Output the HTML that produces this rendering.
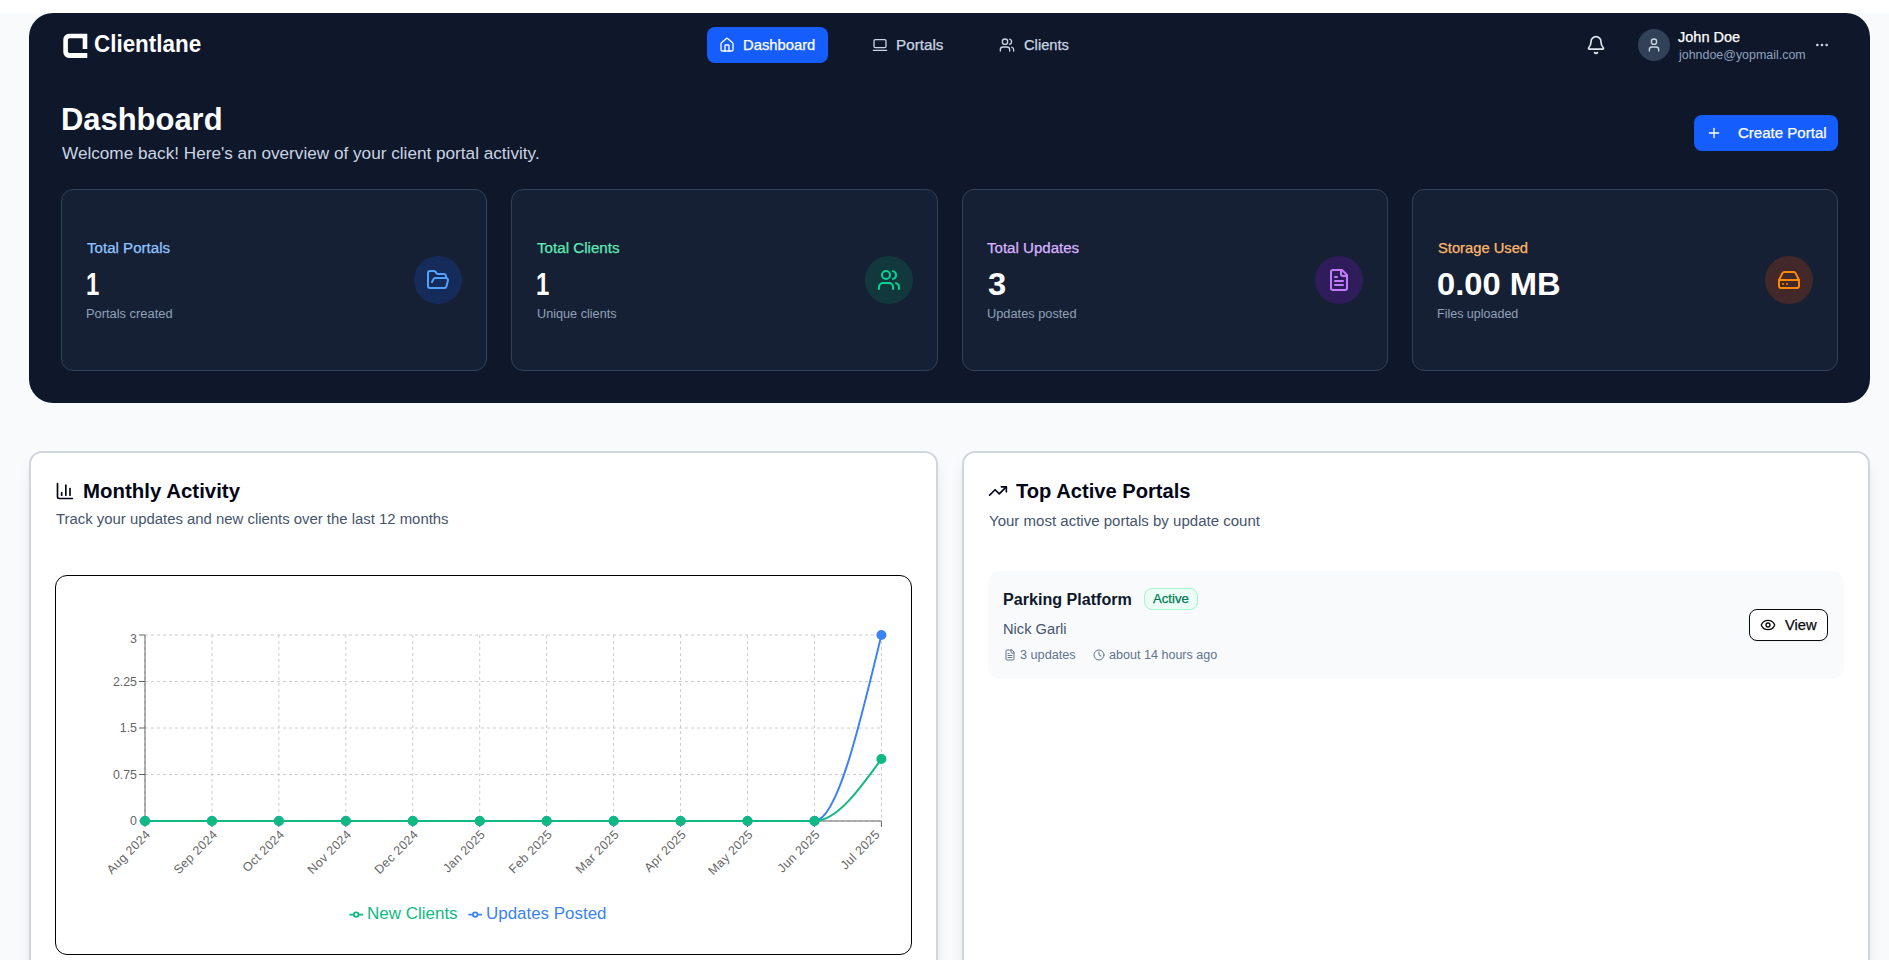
<!DOCTYPE html>
<html lang="en">
<head>
<meta charset="utf-8">
<title>Clientlane Dashboard</title>
<style>
*{box-sizing:border-box;margin:0;padding:0}
html,body{width:1889px;height:960px;overflow:hidden}
body{position:relative;background:#f8fafc;font-family:"Liberation Sans",sans-serif;-webkit-font-smoothing:antialiased}
.abs{position:absolute}
.t{position:absolute;transform-origin:0 0;white-space:nowrap;line-height:1;font-family:"Liberation Sans",sans-serif}
.topstrip{left:0;top:0;width:1889px;height:13px;background:#fff}
.hero{left:29px;top:13px;width:1841px;height:390px;background:#0f172b;border-radius:24px}
.navactive{left:707px;top:27px;width:121px;height:36px;background:#155dfc;border-radius:8px}
.avatar{left:1638px;top:29px;width:32px;height:32px;border-radius:50%;background:#314158}
.createbtn{left:1694px;top:115px;width:144px;height:36px;background:#155dfc;border-radius:8px}
.stat{top:189px;width:426.25px;height:182px;border:1px solid #314158;border-radius:12px;background:rgba(29,41,61,.5)}
.circ{top:256px;width:48px;height:48px;border-radius:50%}
.card{top:451px;height:560px;background:#fff;border:2px solid #d1d5dc;border-radius:13px;box-shadow:0 10px 15px -3px rgba(0,0,0,.1),0 4px 6px -4px rgba(0,0,0,.1)}
.chartbox{left:55px;top:575px;width:857px;height:380px;border:1px solid #000;border-radius:12px;background:#fff}
.item{left:987.5px;top:570.5px;width:856.5px;height:108.5px;background:#f8fafc;border-radius:12px}
.badge{left:1144px;top:588px;width:54px;height:22px;border:1px solid #a4f4cf;background:#ecfdf5;border-radius:8px}
.viewbtn{left:1749px;top:609px;width:79px;height:32px;border:1px solid #0a0a0a;border-radius:8px;background:#fff;box-shadow:0 1px 2px rgba(0,0,0,.05)}
svg.ic{position:absolute;fill:none;stroke-width:2;stroke-linecap:round;stroke-linejoin:round;overflow:visible}
</style>
</head>
<body>
<div class="abs topstrip"></div>
<div class="abs hero"></div>

<!-- logo -->
<svg class="abs" style="left:60px;top:30px" width="32" height="32" viewBox="60 30 32 32"><path d="M87.3 49 V33.75 H69 A5.7 5.7 0 0 0 63.3 39.45 V52.2 A5.7 5.7 0 0 0 69 57.9 H87.3 V52.9 H69.6 A1.7 1.7 0 0 1 67.9 51.2 V40.05 A1.7 1.7 0 0 1 69.6 38.35 H82.7 V49 Z" fill="#fff"/></svg>

<!-- nav -->
<div class="abs navactive"></div>
<svg class="ic" style="left:719px;top:37px;stroke:#fff" width="16" height="16" viewBox="0 0 24 24"><path d="M15 21v-8a1 1 0 0 0-1-1h-4a1 1 0 0 0-1 1v8"/><path d="M3 10a2 2 0 0 1 .709-1.528l7-5.999a2 2 0 0 1 2.582 0l7 5.999A2 2 0 0 1 21 10v9a2 2 0 0 1-2 2H5a2 2 0 0 1-2-2z"/></svg>
<svg class="ic" style="left:872px;top:37px;stroke:#cad5e2" width="16" height="16" viewBox="0 0 24 24"><rect width="18" height="12" x="3" y="4" rx="2" ry="2"/><line x1="2" x2="22" y1="20" y2="20"/></svg>
<svg class="ic" style="left:999px;top:37px;stroke:#cad5e2" width="16" height="16" viewBox="0 0 24 24"><path d="M16 21v-2a4 4 0 0 0-4-4H6a4 4 0 0 0-4 4v2"/><circle cx="9" cy="7" r="4"/><path d="M22 21v-2a4 4 0 0 0-3-3.87"/><path d="M16 3.13a4 4 0 0 1 0 7.75"/></svg>

<!-- right header -->
<svg class="ic" style="left:1586px;top:35px;stroke:#e2e8f0" width="20" height="20" viewBox="0 0 24 24"><path d="M10.268 21a2 2 0 0 0 3.464 0"/><path d="M3.262 15.326A1 1 0 0 0 4 17h16a1 1 0 0 0 .74-1.673C19.41 13.956 18 12.499 18 8A6 6 0 0 0 6 8c0 4.499-1.411 5.956-2.738 7.326"/></svg>
<div class="abs avatar"></div>
<svg class="ic" style="left:1646px;top:37px;stroke:#cad5e2" width="16" height="16" viewBox="0 0 24 24"><path d="M19 21v-2a4 4 0 0 0-4-4H9a4 4 0 0 0-4 4v2"/><circle cx="12" cy="7" r="4"/></svg>
<svg class="ic" style="left:1814px;top:37px;stroke:#cad5e2" width="16" height="16" viewBox="0 0 24 24"><circle cx="12" cy="12" r="1"/><circle cx="19" cy="12" r="1"/><circle cx="5" cy="12" r="1"/></svg>

<!-- create button -->
<div class="abs createbtn"></div>
<svg class="ic" style="left:1706px;top:125px;stroke:#fff" width="16" height="16" viewBox="0 0 24 24"><path d="M5 12h14"/><path d="M12 5v14"/></svg>

<!-- stat cards -->
<div class="abs stat" style="left:61px"></div>
<div class="abs stat" style="left:511.25px"></div>
<div class="abs stat" style="left:961.5px"></div>
<div class="abs stat" style="left:1411.75px"></div>
<div class="abs circ" style="left:414px;background:rgba(21,93,252,.2)"></div>
<div class="abs circ" style="left:865px;background:rgba(0,153,102,.2)"></div>
<div class="abs circ" style="left:1315px;background:rgba(152,16,250,.2)"></div>
<div class="abs circ" style="left:1765px;background:rgba(245,73,0,.2)"></div>
<svg class="ic" style="left:426px;top:268px;stroke:#51a2ff" width="24" height="24" viewBox="0 0 24 24"><path d="m6 14 1.5-2.9A2 2 0 0 1 9.24 10H20a2 2 0 0 1 1.94 2.5l-1.54 6a2 2 0 0 1-1.95 1.5H4a2 2 0 0 1-2-2V5a2 2 0 0 1 2-2h3.9a2 2 0 0 1 1.69.9l.81 1.2a2 2 0 0 0 1.67.9H18a2 2 0 0 1 2 2v2"/></svg>
<svg class="ic" style="left:877px;top:268px;stroke:#00d492" width="24" height="24" viewBox="0 0 24 24"><path d="M16 21v-2a4 4 0 0 0-4-4H6a4 4 0 0 0-4 4v2"/><circle cx="9" cy="7" r="4"/><path d="M22 21v-2a4 4 0 0 0-3-3.87"/><path d="M16 3.13a4 4 0 0 1 0 7.75"/></svg>
<svg class="ic" style="left:1327px;top:268px;stroke:#c27aff" width="24" height="24" viewBox="0 0 24 24"><path d="M15 2H6a2 2 0 0 0-2 2v16a2 2 0 0 0 2 2h12a2 2 0 0 0 2-2V7Z"/><path d="M14 2v4a2 2 0 0 0 2 2h4"/><path d="M10 9H8"/><path d="M16 13H8"/><path d="M16 17H8"/></svg>
<svg class="ic" style="left:1777px;top:268px;stroke:#ff8904" width="24" height="24" viewBox="0 0 24 24"><line x1="22" x2="2" y1="12" y2="12"/><path d="M5.45 5.11 2 12v6a2 2 0 0 0 2 2h16a2 2 0 0 0 2-2v-6l-3.45-6.89A2 2 0 0 0 16.76 4H7.24a2 2 0 0 0-1.79 1.11z"/><line x1="6" x2="6.01" y1="16" y2="16"/><line x1="10" x2="10.01" y1="16" y2="16"/></svg>

<!-- lower cards -->
<div class="abs card" style="left:29px;width:908.5px"></div>
<div class="abs card" style="left:961.5px;width:908.5px"></div>
<svg class="ic" style="left:55px;top:481px;stroke:#020618" width="20" height="20" viewBox="0 0 24 24"><path d="M3 3v16a2 2 0 0 0 2 2h16"/><path d="M18 17V9"/><path d="M13 17V5"/><path d="M8 17v-3"/></svg>
<svg class="ic" style="left:988px;top:481px;stroke:#020618" width="20" height="20" viewBox="0 0 24 24"><path d="M16 7h6v6"/><path d="m22 7-8.5 8.5-5-5L2 17"/></svg>
<div class="abs chartbox"></div>
<svg class="abs" style="left:0;top:0;pointer-events:none" width="1889" height="960" viewBox="0 0 1889 960" font-family="'Liberation Sans', sans-serif">
<g stroke="#ccc" stroke-dasharray="3 3" fill="none" stroke-width="1">
<line x1="145.0" y1="821.00" x2="881.4" y2="821.00"/>
<line x1="145.0" y1="774.50" x2="881.4" y2="774.50"/>
<line x1="145.0" y1="728.00" x2="881.4" y2="728.00"/>
<line x1="145.0" y1="681.50" x2="881.4" y2="681.50"/>
<line x1="145.0" y1="635.00" x2="881.4" y2="635.00"/>
<line x1="145.00" y1="635.0" x2="145.00" y2="821.0"/>
<line x1="211.95" y1="635.0" x2="211.95" y2="821.0"/>
<line x1="278.89" y1="635.0" x2="278.89" y2="821.0"/>
<line x1="345.84" y1="635.0" x2="345.84" y2="821.0"/>
<line x1="412.78" y1="635.0" x2="412.78" y2="821.0"/>
<line x1="479.73" y1="635.0" x2="479.73" y2="821.0"/>
<line x1="546.67" y1="635.0" x2="546.67" y2="821.0"/>
<line x1="613.62" y1="635.0" x2="613.62" y2="821.0"/>
<line x1="680.56" y1="635.0" x2="680.56" y2="821.0"/>
<line x1="747.51" y1="635.0" x2="747.51" y2="821.0"/>
<line x1="814.45" y1="635.0" x2="814.45" y2="821.0"/>
<line x1="881.40" y1="635.0" x2="881.40" y2="821.0"/>
</g>
<g stroke="#666" fill="none" stroke-width="1">
<line x1="145.0" y1="821.0" x2="881.4" y2="821.0"/>
<line x1="145.00" y1="821.0" x2="145.00" y2="827.0"/>
<line x1="211.95" y1="821.0" x2="211.95" y2="827.0"/>
<line x1="278.89" y1="821.0" x2="278.89" y2="827.0"/>
<line x1="345.84" y1="821.0" x2="345.84" y2="827.0"/>
<line x1="412.78" y1="821.0" x2="412.78" y2="827.0"/>
<line x1="479.73" y1="821.0" x2="479.73" y2="827.0"/>
<line x1="546.67" y1="821.0" x2="546.67" y2="827.0"/>
<line x1="613.62" y1="821.0" x2="613.62" y2="827.0"/>
<line x1="680.56" y1="821.0" x2="680.56" y2="827.0"/>
<line x1="747.51" y1="821.0" x2="747.51" y2="827.0"/>
<line x1="814.45" y1="821.0" x2="814.45" y2="827.0"/>
<line x1="881.40" y1="821.0" x2="881.40" y2="827.0"/>
<line x1="145.0" y1="635.0" x2="145.0" y2="821.0"/>
<line x1="139.0" y1="821.00" x2="145.0" y2="821.00"/>
<line x1="139.0" y1="774.50" x2="145.0" y2="774.50"/>
<line x1="139.0" y1="728.00" x2="145.0" y2="728.00"/>
<line x1="139.0" y1="681.50" x2="145.0" y2="681.50"/>
<line x1="139.0" y1="635.00" x2="145.0" y2="635.00"/>
</g>
<g fill="#666" font-size="12.4" stroke="none">
<text x="137.0" y="821.00" text-anchor="end"><tspan dy="0.355em">0</tspan></text>
<text x="137.0" y="774.50" text-anchor="end"><tspan dy="0.355em">0.75</tspan></text>
<text x="137.0" y="728.00" text-anchor="end"><tspan dy="0.355em">1.5</tspan></text>
<text x="137.0" y="681.50" text-anchor="end"><tspan dy="0.355em">2.25</tspan></text>
<text x="137.0" y="638.50" text-anchor="end"><tspan dy="0.355em">3</tspan></text>
<text x="145.00" y="829.00" text-anchor="end" letter-spacing="0.35" transform="rotate(-45, 145.00, 829.00)"><tspan dy="0.71em">Aug 2024</tspan></text>
<text x="211.95" y="829.00" text-anchor="end" letter-spacing="0.35" transform="rotate(-45, 211.95, 829.00)"><tspan dy="0.71em">Sep 2024</tspan></text>
<text x="278.89" y="829.00" text-anchor="end" letter-spacing="0.35" transform="rotate(-45, 278.89, 829.00)"><tspan dy="0.71em">Oct 2024</tspan></text>
<text x="345.84" y="829.00" text-anchor="end" letter-spacing="0.35" transform="rotate(-45, 345.84, 829.00)"><tspan dy="0.71em">Nov 2024</tspan></text>
<text x="412.78" y="829.00" text-anchor="end" letter-spacing="0.35" transform="rotate(-45, 412.78, 829.00)"><tspan dy="0.71em">Dec 2024</tspan></text>
<text x="479.73" y="829.00" text-anchor="end" letter-spacing="0.35" transform="rotate(-45, 479.73, 829.00)"><tspan dy="0.71em">Jan 2025</tspan></text>
<text x="546.67" y="829.00" text-anchor="end" letter-spacing="0.35" transform="rotate(-45, 546.67, 829.00)"><tspan dy="0.71em">Feb 2025</tspan></text>
<text x="613.62" y="829.00" text-anchor="end" letter-spacing="0.35" transform="rotate(-45, 613.62, 829.00)"><tspan dy="0.71em">Mar 2025</tspan></text>
<text x="680.56" y="829.00" text-anchor="end" letter-spacing="0.35" transform="rotate(-45, 680.56, 829.00)"><tspan dy="0.71em">Apr 2025</tspan></text>
<text x="747.51" y="829.00" text-anchor="end" letter-spacing="0.35" transform="rotate(-45, 747.51, 829.00)"><tspan dy="0.71em">May 2025</tspan></text>
<text x="814.45" y="829.00" text-anchor="end" letter-spacing="0.35" transform="rotate(-45, 814.45, 829.00)"><tspan dy="0.71em">Jun 2025</tspan></text>
<text x="874.40" y="829.00" text-anchor="end" letter-spacing="0.35" transform="rotate(-45, 874.40, 829.00)"><tspan dy="0.71em">Jul 2025</tspan></text>
</g>
<path d="M145.00,821.00L211.95,821.00L278.89,821.00L345.84,821.00L412.78,821.00L479.73,821.00L546.67,821.00L613.62,821.00L680.56,821.00L747.51,821.00L814.45,821.00C836.77,821.00,859.08,728.00,881.40,635.00" fill="none" stroke="#3b82f6" stroke-width="2"/>
<circle cx="145.00" cy="821.00" r="4" fill="#3b82f6" stroke="#3b82f6" stroke-width="2"/>
<circle cx="211.95" cy="821.00" r="4" fill="#3b82f6" stroke="#3b82f6" stroke-width="2"/>
<circle cx="278.89" cy="821.00" r="4" fill="#3b82f6" stroke="#3b82f6" stroke-width="2"/>
<circle cx="345.84" cy="821.00" r="4" fill="#3b82f6" stroke="#3b82f6" stroke-width="2"/>
<circle cx="412.78" cy="821.00" r="4" fill="#3b82f6" stroke="#3b82f6" stroke-width="2"/>
<circle cx="479.73" cy="821.00" r="4" fill="#3b82f6" stroke="#3b82f6" stroke-width="2"/>
<circle cx="546.67" cy="821.00" r="4" fill="#3b82f6" stroke="#3b82f6" stroke-width="2"/>
<circle cx="613.62" cy="821.00" r="4" fill="#3b82f6" stroke="#3b82f6" stroke-width="2"/>
<circle cx="680.56" cy="821.00" r="4" fill="#3b82f6" stroke="#3b82f6" stroke-width="2"/>
<circle cx="747.51" cy="821.00" r="4" fill="#3b82f6" stroke="#3b82f6" stroke-width="2"/>
<circle cx="814.45" cy="821.00" r="4" fill="#3b82f6" stroke="#3b82f6" stroke-width="2"/>
<circle cx="881.40" cy="635.00" r="4" fill="#3b82f6" stroke="#3b82f6" stroke-width="2"/>
<path d="M145.00,821.00L211.95,821.00L278.89,821.00L345.84,821.00L412.78,821.00L479.73,821.00L546.67,821.00L613.62,821.00L680.56,821.00L747.51,821.00L814.45,821.00C836.77,821.00,859.08,790.00,881.40,759.00" fill="none" stroke="#10b981" stroke-width="2"/>
<circle cx="145.00" cy="821.00" r="4" fill="#10b981" stroke="#10b981" stroke-width="2"/>
<circle cx="211.95" cy="821.00" r="4" fill="#10b981" stroke="#10b981" stroke-width="2"/>
<circle cx="278.89" cy="821.00" r="4" fill="#10b981" stroke="#10b981" stroke-width="2"/>
<circle cx="345.84" cy="821.00" r="4" fill="#10b981" stroke="#10b981" stroke-width="2"/>
<circle cx="412.78" cy="821.00" r="4" fill="#10b981" stroke="#10b981" stroke-width="2"/>
<circle cx="479.73" cy="821.00" r="4" fill="#10b981" stroke="#10b981" stroke-width="2"/>
<circle cx="546.67" cy="821.00" r="4" fill="#10b981" stroke="#10b981" stroke-width="2"/>
<circle cx="613.62" cy="821.00" r="4" fill="#10b981" stroke="#10b981" stroke-width="2"/>
<circle cx="680.56" cy="821.00" r="4" fill="#10b981" stroke="#10b981" stroke-width="2"/>
<circle cx="747.51" cy="821.00" r="4" fill="#10b981" stroke="#10b981" stroke-width="2"/>
<circle cx="814.45" cy="821.00" r="4" fill="#10b981" stroke="#10b981" stroke-width="2"/>
<circle cx="881.40" cy="759.00" r="4" fill="#10b981" stroke="#10b981" stroke-width="2"/>
<svg x="349.2" y="907.6" width="14" height="14" viewBox="0 0 32 32"><path stroke-width="4" fill="none" stroke="#10b981" d="M0,16h10.666666666666666A5.333333333333333,5.333333333333333,0,1,1,21.333333333333332,16H32M21.333333333333332,16A5.333333333333333,5.333333333333333,0,1,1,10.666666666666666,16"/></svg>
<svg x="468.2" y="907.6" width="14" height="14" viewBox="0 0 32 32"><path stroke-width="4" fill="none" stroke="#3b82f6" d="M0,16h10.666666666666666A5.333333333333333,5.333333333333333,0,1,1,21.333333333333332,16H32M21.333333333333332,16A5.333333333333333,5.333333333333333,0,1,1,10.666666666666666,16"/></svg>
</svg>
<div class="abs item"></div>
<div class="abs badge"></div>
<svg class="ic" style="left:1004px;top:649px;stroke:#62748e" width="12" height="12" viewBox="0 0 24 24"><path d="M15 2H6a2 2 0 0 0-2 2v16a2 2 0 0 0 2 2h12a2 2 0 0 0 2-2V7Z"/><path d="M14 2v4a2 2 0 0 0 2 2h4"/><path d="M10 9H8"/><path d="M16 13H8"/><path d="M16 17H8"/></svg>
<svg class="ic" style="left:1093px;top:649px;stroke:#62748e" width="12" height="12" viewBox="0 0 24 24"><circle cx="12" cy="12" r="10"/><polyline points="12 6 12 12 16 14"/></svg>
<div class="abs viewbtn"></div>
<svg class="ic" style="left:1760px;top:617px;stroke:#0a0a0a" width="16" height="16" viewBox="0 0 24 24"><path d="M2.062 12.348a1 1 0 0 1 0-.696 10.75 10.75 0 0 1 19.876 0 1 1 0 0 1 0 .696 10.75 10.75 0 0 1-19.876 0"/><circle cx="12" cy="12" r="3"/></svg>

<span class="t" style="left:93.80px;top:32.81px;font-size:23.21px;font-weight:700;color:#fff;letter-spacing:0.000px;transform:scaleX(0.9659);">Clientlane</span>
<span class="t" style="left:742.96px;top:38.01px;font-size:14.28px;font-weight:400;color:#fff;letter-spacing:0.000px;transform:scaleX(1.0355);-webkit-text-stroke:0.25px;">Dashboard</span>
<span class="t" style="left:895.73px;top:38.01px;font-size:14.28px;font-weight:400;color:#cad5e2;letter-spacing:0.000px;transform:scaleX(1.0678);-webkit-text-stroke:0.25px;">Portals</span>
<span class="t" style="left:1024.20px;top:37.92px;font-size:14.28px;font-weight:400;color:#cad5e2;letter-spacing:0.000px;transform:scaleX(1.0305);-webkit-text-stroke:0.25px;">Clients</span>
<span class="t" style="left:1678.30px;top:29.70px;font-size:14.28px;font-weight:400;color:#fff;letter-spacing:0.000px;transform:scaleX(1.0174);-webkit-text-stroke:0.25px;">John Doe</span>
<span class="t" style="left:1678.82px;top:48.71px;font-size:12.24px;font-weight:400;color:#90a1b9;letter-spacing:0.000px;transform:scaleX(1.0164);">johndoe@yopmail.com</span>
<span class="t" style="left:60.58px;top:104.00px;font-size:30.6px;font-weight:700;color:#fff;letter-spacing:0.000px;transform:scaleX(1.0108);">Dashboard</span>
<span class="t" style="left:61.90px;top:144.80px;font-size:16.32px;font-weight:400;color:#cad5e2;letter-spacing:0.000px;transform:scaleX(1.0521);">Welcome back! Here&#39;s an overview of your client portal activity.</span>
<span class="t" style="left:1737.90px;top:125.92px;font-size:14.28px;font-weight:400;color:#fff;letter-spacing:0.000px;transform:scaleX(1.0539);-webkit-text-stroke:0.25px;">Create Portal</span>
<span class="t" style="left:86.70px;top:240.92px;font-size:14.28px;font-weight:400;color:#8ec5ff;letter-spacing:0.000px;transform:scaleX(1.0579);-webkit-text-stroke:0.25px;">Total Portals</span>
<span class="t" style="left:86.12px;top:269.11px;font-size:30.6px;font-weight:700;color:#fff;letter-spacing:0.000px;transform:scaleX(0.7800);">1</span>
<span class="t" style="left:85.65px;top:308.01px;font-size:12.24px;font-weight:400;color:#90a1b9;letter-spacing:0.000px;transform:scaleX(1.0518);">Portals created</span>
<span class="t" style="left:536.90px;top:240.92px;font-size:14.28px;font-weight:400;color:#5ee9b5;letter-spacing:0.000px;transform:scaleX(1.0623);-webkit-text-stroke:0.25px;">Total Clients</span>
<span class="t" style="left:536.32px;top:269.11px;font-size:30.6px;font-weight:700;color:#fff;letter-spacing:0.000px;transform:scaleX(0.7800);">1</span>
<span class="t" style="left:536.70px;top:308.01px;font-size:12.24px;font-weight:400;color:#90a1b9;letter-spacing:0.000px;transform:scaleX(1.0348);">Unique clients</span>
<span class="t" style="left:987.20px;top:240.92px;font-size:14.28px;font-weight:400;color:#dab2ff;letter-spacing:0.000px;transform:scaleX(1.0563);-webkit-text-stroke:0.25px;">Total Updates</span>
<span class="t" style="left:987.90px;top:269.11px;font-size:30.6px;font-weight:700;color:#fff;letter-spacing:0.000px;transform:scaleX(1.0700);">3</span>
<span class="t" style="left:987.20px;top:308.01px;font-size:12.24px;font-weight:400;color:#90a1b9;letter-spacing:0.000px;transform:scaleX(1.0454);">Updates posted</span>
<span class="t" style="left:1437.50px;top:240.92px;font-size:14.28px;font-weight:400;color:#ffb86a;letter-spacing:0.000px;transform:scaleX(1.0321);-webkit-text-stroke:0.25px;">Storage Used</span>
<span class="t" style="left:1436.83px;top:269.11px;font-size:30.6px;font-weight:700;color:#fff;letter-spacing:0.000px;transform:scaleX(1.0684);">0.00 MB</span>
<span class="t" style="left:1436.68px;top:308.01px;font-size:12.24px;font-weight:400;color:#90a1b9;letter-spacing:0.000px;transform:scaleX(1.0219);">Files uploaded</span>
<span class="t" style="left:82.95px;top:482.01px;font-size:19.48px;font-weight:700;color:#020618;letter-spacing:0.000px;transform:scaleX(1.0493);">Monthly Activity</span>
<span class="t" style="left:55.80px;top:511.92px;font-size:14.28px;font-weight:400;color:#45556c;letter-spacing:0.000px;transform:scaleX(1.0436);">Track your updates and new clients over the last 12 months</span>
<span class="t" style="left:1016.10px;top:482.01px;font-size:19.48px;font-weight:700;color:#020618;letter-spacing:0.000px;transform:scaleX(1.0338);">Top Active Portals</span>
<span class="t" style="left:988.70px;top:513.92px;font-size:14.28px;font-weight:400;color:#45556c;letter-spacing:0.000px;transform:scaleX(1.0535);">Your most active portals by update count</span>
<span class="t" style="left:1003.21px;top:590.60px;font-size:16.32px;font-weight:700;color:#0f172b;letter-spacing:0.000px;transform:scaleX(0.9874);">Parking Platform</span>
<span class="t" style="left:1153.40px;top:593.21px;font-size:12.24px;font-weight:400;color:#007a55;letter-spacing:0.027px;transform:scaleX(1.0700);-webkit-text-stroke:0.25px;">Active</span>
<span class="t" style="left:1003.47px;top:621.92px;font-size:14.28px;font-weight:400;color:#45556c;letter-spacing:0.000px;transform:scaleX(1.0288);">Nick Garli</span>
<span class="t" style="left:1020.30px;top:648.71px;font-size:12.24px;font-weight:400;color:#62748e;letter-spacing:0.000px;transform:scaleX(1.0350);">3 updates</span>
<span class="t" style="left:1109.10px;top:648.71px;font-size:12.24px;font-weight:400;color:#62748e;letter-spacing:0.000px;transform:scaleX(1.0271);">about 14 hours ago</span>
<span class="t" style="left:1784.50px;top:618.01px;font-size:14.28px;font-weight:400;color:#0a0a0a;letter-spacing:0.000px;transform:scaleX(1.0332);-webkit-text-stroke:0.25px;">View</span>
<span class="t" style="left:367.36px;top:905.00px;font-size:16.32px;font-weight:400;color:#10b981;letter-spacing:0.000px;transform:scaleX(1.0411);">New Clients</span>
<span class="t" style="left:486.36px;top:905.00px;font-size:16.32px;font-weight:400;color:#3b82f6;letter-spacing:0.000px;transform:scaleX(1.0382);">Updates Posted</span>
</body>
</html>
